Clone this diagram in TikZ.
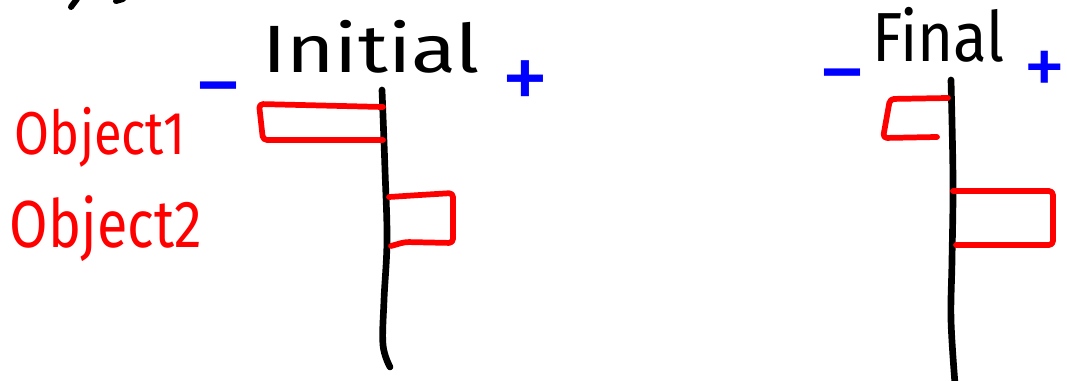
\documentclass[tikz,border=0pt]{standalone}
\usepackage{fontspec}
\setmainfont{Fira Sans}
\usepackage{graphicx}
\begin{document}
\begin{tikzpicture}[x=0.75pt,y=-0.75pt,
  axisline/.style={line width=5pt, line cap=round, line join=round, black},
  bar/.style={line width=4.3pt, red, line cap=round, line join=round, rounded corners=3pt},
  lbl/.style={inner sep=0pt, outer sep=0pt, anchor=north west},
  sign/.style={inner sep=0pt, outer sep=0pt, text=blue, font=\fontsize{72}{72}\selectfont},
  frag/.style={line width=4.5pt, line cap=round, black}]
\useasboundingbox (0,0) rectangle (1067,381);
\clip (0,0) rectangle (1067,381);

% cut-off fragments at the top left
\draw[frag] (71,7) -- (77,-1);
\draw[frag] (116,1) -- (123,-1);

% ---------- Initial ----------
\node[lbl] (tinit) at (262,20) {\resizebox*{163.5pt}{39.75pt}{Initial}};
\node[sign] (minusA) at (218,100) {−};
\node[sign] (plusA) at (525,86) {+};

\coordinate (axAtop) at (382,90);
\coordinate (axAbot) at (390,367);
\draw[axisline] plot[smooth, tension=0.6] coordinates
  {(axAtop) (385,170) (387,240) (384,300) (383,345) (axAbot)};

\node[lbl,text=red] (objA) at (15,107) {\resizebox*{127.5pt}{45pt}{Object1}};
\node[lbl,text=red] (objB) at (10,196) {\resizebox*{144pt}{49.5pt}{Object2}};

\draw[bar] (383,107) -- (259,104) -- (263,140) -- (383,140);
\draw[bar] (389,197) -- (420,195) -- (453,193) -- (453,243) -- (405,242) -- (391,246);

% ---------- Final ----------
\node[lbl] (tfinal) at (872,7) {\resizebox*{99.75pt}{41.25pt}{Final}};
\node[sign] (minusB) at (842,87) {−};
\node[sign,font=\fontsize{64}{64}\selectfont] (plusB) at (1045,73) {+};

\coordinate (axBtop) at (951,80);
\coordinate (axBbot) at (955,384);
\draw[axisline] plot[smooth, tension=0.6] coordinates
  {(axBtop) (953,180) (952,260) (951,320) (axBbot)};

\draw[bar] (948,98) -- (890,99) -- (883,138) -- (937,137);
\draw[bar] (953,191) -- (1053,191) -- (1053,245) -- (956,245);
\end{tikzpicture}
\end{document}
